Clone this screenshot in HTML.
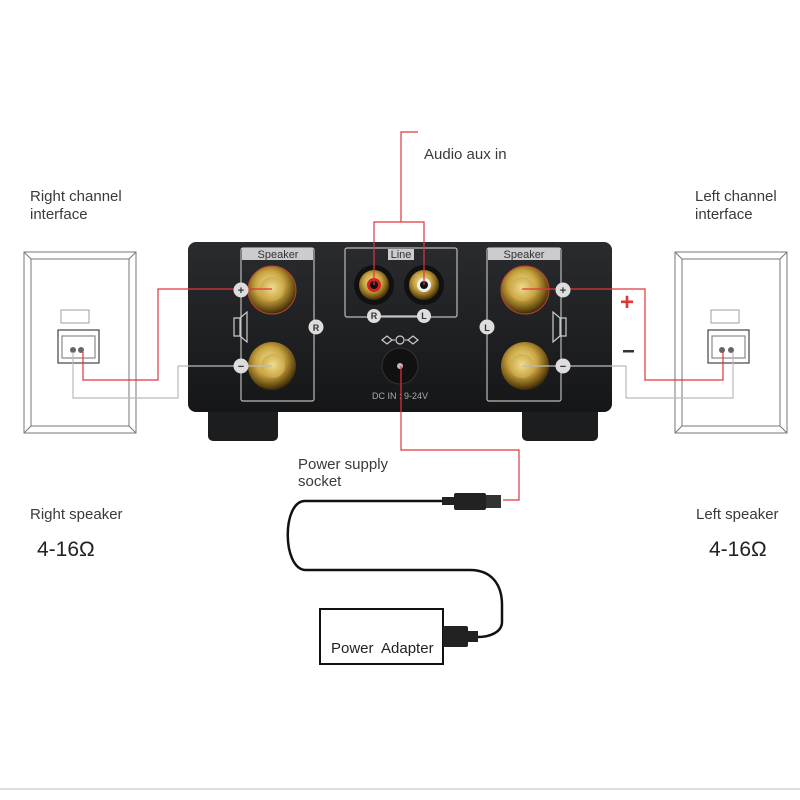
<!DOCTYPE html>
<html><head><meta charset="utf-8"><style>
html,body{margin:0;padding:0;background:#fff;}
svg{display:block;font-family:"Liberation Sans","DejaVu Sans",sans-serif;}
</style></head><body>
<svg width="800" height="800" viewBox="0 0 800 800" xmlns="http://www.w3.org/2000/svg">
<defs>
<radialGradient id="gold" cx="45%" cy="40%" r="60%">
<stop offset="0" stop-color="#f3e39a"/><stop offset="0.5" stop-color="#c9a440"/><stop offset="0.85" stop-color="#6b4f12"/><stop offset="1" stop-color="#3a2a08"/></radialGradient>
<radialGradient id="gold2" cx="50%" cy="45%" r="55%">
<stop offset="0" stop-color="#f0dc8c"/><stop offset="1" stop-color="#c8a445"/></radialGradient>
<linearGradient id="body" x1="0" y1="0" x2="0" y2="1"><stop offset="0" stop-color="#2a2b2e"/><stop offset="1" stop-color="#151618"/></linearGradient>
</defs>
<rect width="800" height="800" fill="#fff"/>
<line x1="0" y1="789" x2="800" y2="789" stroke="#bbb" stroke-width="1"/>

<g fill="#3a3a3a" font-size="15">
<text x="30" y="201">Right channel</text><text x="30" y="219">interface</text>
<text x="695" y="201">Left channel</text><text x="695" y="219">interface</text>
<text x="424" y="159">Audio aux in</text>
<text x="30" y="519">Right speaker</text>
<text x="696" y="519">Left speaker</text>
<text x="298" y="469">Power supply</text><text x="298" y="486">socket</text>
</g>
<text x="37" y="556" font-size="21" fill="#222">4-16Ω</text>
<text x="709" y="556" font-size="21" fill="#222">4-16Ω</text>

<g fill="none" stroke="#777" stroke-width="1">
<rect x="24" y="252" width="112" height="181"/><rect x="31" y="259" width="98" height="167"/>
<line x1="24" y1="252" x2="31" y2="259"/><line x1="136" y1="252" x2="129" y2="259"/><line x1="24" y1="433" x2="31" y2="426"/><line x1="136" y1="433" x2="129" y2="426"/>
<rect x="675" y="252" width="112" height="181"/><rect x="682" y="259" width="98" height="167"/>
<line x1="675" y1="252" x2="682" y2="259"/><line x1="787" y1="252" x2="780" y2="259"/><line x1="675" y1="433" x2="682" y2="426"/><line x1="787" y1="433" x2="780" y2="426"/>
</g>
<g stroke="#444" fill="#fff" stroke-width="1.2">
<rect x="58" y="330" width="41" height="33"/><rect x="62" y="336" width="33" height="22" stroke="#888"/>
<rect x="708" y="330" width="41" height="33"/><rect x="712" y="336" width="33" height="22" stroke="#888"/>
</g>
<g fill="#fff" stroke="#888" stroke-width="0.8"><rect x="61" y="310" width="28" height="13"/><rect x="711" y="310" width="28" height="13"/></g>
<g fill="#666"><circle cx="73" cy="350" r="3"/><circle cx="81" cy="350" r="3"/><circle cx="722" cy="350" r="3"/><circle cx="731" cy="350" r="3"/></g>

<text x="620" y="310" font-size="24" fill="#e0353b" font-weight="bold">+</text>
<rect x="623" y="350" width="11" height="2.5" fill="#333"/>

<rect x="208" y="405" width="70" height="36" rx="5" fill="#1c1d1f"/>
<rect x="522" y="405" width="76" height="36" rx="5" fill="#1c1d1f"/>
<rect x="188" y="242" width="424" height="170" rx="8" fill="url(#body)"/>
<g fill="none" stroke="#bbb" stroke-width="1.2">
<rect x="241" y="248" width="73" height="153" rx="2"/>
<rect x="487" y="248" width="74" height="153" rx="2"/>
<rect x="345" y="248" width="112" height="69" rx="2"/>
</g>
<g fill="#ccc"><rect x="242" y="248" width="71" height="12"/><rect x="488" y="248" width="72" height="12"/><rect x="388" y="249" width="26" height="11"/></g>
<g font-size="11" fill="#333" text-anchor="middle"><text x="278" y="258">Speaker</text><text x="524" y="258">Speaker</text><text x="401" y="258">Line</text></g>

<g>
<circle cx="272" cy="290" r="24" fill="url(#gold)" stroke="#b8452f" stroke-width="1"/><circle cx="272" cy="289" r="12" fill="url(#gold2)"/>
<circle cx="272" cy="366" r="24" fill="url(#gold)"/><circle cx="273" cy="366" r="12" fill="url(#gold2)"/>
<circle cx="525" cy="290" r="24" fill="url(#gold)" stroke="#b8452f" stroke-width="1"/><circle cx="522" cy="289" r="12" fill="url(#gold2)"/>
<circle cx="525" cy="366" r="24" fill="url(#gold)"/><circle cx="522" cy="366" r="12" fill="url(#gold2)"/>
<circle cx="374" cy="285" r="20" fill="#111"/><circle cx="374" cy="285" r="15" fill="url(#gold)"/><circle cx="374" cy="285" r="7" fill="#d82020"/><circle cx="374" cy="285" r="4" fill="#111"/>
<circle cx="424" cy="285" r="20" fill="#111"/><circle cx="424" cy="285" r="15" fill="url(#gold)"/><circle cx="424" cy="285" r="7" fill="#eee"/><circle cx="424" cy="285" r="4" fill="#111"/>
<circle cx="400" cy="366" r="18" fill="#111" stroke="#333"/><circle cx="400" cy="366" r="3" fill="#bbb"/>
</g>
<g stroke="#ccc" stroke-width="1.2" fill="none"><line x1="374" y1="316" x2="424" y2="316"/><polygon points="382,340 387,336 392,340 387,344"/><line x1="392" y1="340" x2="395" y2="340"/><circle cx="400" cy="340" r="4"/><line x1="405" y1="340" x2="408" y2="340"/><polygon points="408,340 413,336 418,340 413,344"/>
<path d="M234 318 h6 v18 h-6 z M240 318 l7 -6 v30 l-7 -6"/><path d="M560 318 h6 v18 h-6 z M560 318 l-7 -6 v30 l7 -6"/></g>

<!-- wires over amp -->
<g fill="none" stroke-width="1.2">
<polyline points="73,352 73,398 178,398 178,366 272,366" stroke="#bbb"/>
<polyline points="83,352 83,380 158,380 158,289 272,289" stroke="#e0353b"/>
<polyline points="522,366 626,366 626,398 733,398 733,352" stroke="#bbb"/>
<polyline points="522,289 645,289 645,380 723,380 723,352" stroke="#e0353b"/>
</g>

<g font-size="11" font-weight="bold" text-anchor="middle">
<circle cx="241" cy="290" r="7.5" fill="#ddd"/><text x="241" y="294" fill="#333">+</text>
<circle cx="241" cy="366" r="7.5" fill="#ddd"/><text x="241" y="370" fill="#333">−</text>
<circle cx="316" cy="327" r="7.5" fill="#ddd"/><text x="316" y="331" fill="#333" font-size="9">R</text>
<circle cx="487" cy="327" r="7.5" fill="#ddd"/><text x="487" y="331" fill="#333" font-size="9">L</text>
<circle cx="563" cy="290" r="7.5" fill="#ddd"/><text x="563" y="294" fill="#333">+</text>
<circle cx="563" cy="366" r="7.5" fill="#ddd"/><text x="563" y="370" fill="#333">−</text>
<circle cx="374" cy="316" r="7" fill="#ddd"/><text x="374" y="319" fill="#333" font-size="9">R</text>
<circle cx="424" cy="316" r="7" fill="#ddd"/><text x="424" y="319" fill="#333" font-size="9">L</text>
</g>
<text x="400" y="399" font-size="9" fill="#aaa" text-anchor="middle">DC IN : 9-24V</text>

<g fill="none" stroke="#e0353b" stroke-width="1.2">
<polyline points="374,285 374,222 424,222 424,285"/>
<polyline points="401,222 401,132 418,132"/>
<polyline points="401,366 401,450 519,450 519,500 503,500"/>
</g>

<path d="M455 501 H305 C282 501 282 568 305 570 H470 C492 570 502 585 502 605 V622 C502 632 490 637 478 637" fill="none" stroke="#111" stroke-width="2.5"/>
<rect x="442" y="497" width="14" height="8" fill="#222"/>
<rect x="454" y="493" width="32" height="17" rx="2" fill="#222"/>
<rect x="486" y="495" width="15" height="13" fill="#333"/>
<rect x="320" y="609" width="123" height="55" fill="#fff" stroke="#111" stroke-width="2"/>
<text x="331" y="653" font-size="15" fill="#222">Power&#160; Adapter</text>
<rect x="443" y="626" width="25" height="21" rx="2" fill="#222"/>
<rect x="466" y="631" width="12" height="11" fill="#222"/>
</svg>
</body></html>
